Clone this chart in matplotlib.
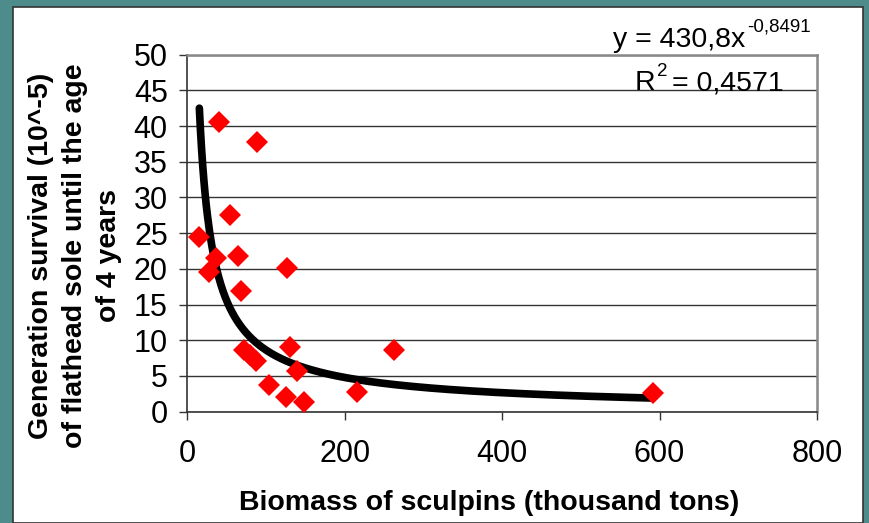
import numpy as np
import matplotlib.pyplot as plt
from matplotlib.patches import Rectangle

plt.rcParams['font.family'] = ['Liberation Sans', 'DejaVu Sans']

# Data
biomass = [14.5, 28, 36, 40.8, 54.8, 65, 68.8, 72, 80, 87, 88.4, 104, 125.7,
           127, 130.6, 139, 147.8, 216, 262, 592]
survival = [24.4, 19.5, 21.5, 40.5, 27.5, 21.8, 16.9, 8.6, 8.0, 7.1, 37.7, 3.7, 2.1,
            20.1, 9.0, 5.7, 1.3, 2.7, 8.7, 2.6]

# power trendline shown on the chart
coef_a = 430.8
coef_b = -0.8491
trend_x = np.linspace(15.3, 590, 400)
trend_y = coef_a * trend_x ** coef_b

W, H = 869, 523
fig = plt.figure(figsize=(W / 100, H / 100), dpi=100)
fig.patch.set_facecolor('#4e8c8c')
fig.patches.append(Rectangle((13 / W, 0), 850 / W, 1 - 7 / H, transform=fig.transFigure,
                             facecolor='white', edgecolor='#333333', linewidth=1.2, zorder=-5))

ax = fig.add_axes([187.3 / W, 1 - 411.7 / H, (817 - 187.3) / W, (411.7 - 54.6) / H])
ax.set_zorder(2)
ax.set_facecolor('white')
ax.set_xlim(0, 800)
ax.set_ylim(0, 50)
ax.set_xticks([0, 200, 400, 600, 800])
ax.set_yticks(range(0, 51, 5))
ax.grid(axis='y', color='#333333', linewidth=1)
ax.set_axisbelow(True)

for s in ['top', 'right']:
    ax.spines[s].set_color('#888888')
    ax.spines[s].set_linewidth(1.8)
for s in ['left', 'bottom']:
    ax.spines[s].set_color('#333333')
    ax.spines[s].set_linewidth(1.2)

ax.tick_params(axis='both', direction='out', length=6, width=1, color='#333333', labelsize=22)
ax.tick_params(axis='y', pad=8)
ax.tick_params(axis='x', pad=14)

ax.plot(trend_x, trend_y, color='black', linewidth=5.5, solid_capstyle='round', zorder=3)
ax.plot(biomass, survival, linestyle='none', marker='D', markersize=11.5,
        color='#ff0000', markeredgewidth=0, zorder=4)

# axis titles
fig.text(75 / W, 1 - 256 / H,
         'Generation survival (10^-5)\nof flathead sole until the age\nof 4 years',
         rotation=90, ha='center', va='center', fontsize=20.5, fontweight='bold',
         linespacing=1.42)
fig.text(489 / W, 1 - 503 / H, 'Biomass of sculpins (thousand tons)',
         ha='center', va='center', fontsize=20.5, fontweight='bold')

# trendline equation
fig.text(745 / W, 1 - 47 / H, 'y = 430,8x', ha='right', va='baseline', fontsize=20.5, zorder=5)
fig.text(747 / W, 1 - 32 / H, '-0,8491', ha='left', va='baseline', fontsize=13.5, zorder=5)
fig.text(635 / W, 1 - 90 / H, 'R', ha='left', va='baseline', fontsize=20.5, zorder=5)
fig.text(657 / W, 1 - 76 / H, '2', ha='left', va='baseline', fontsize=13.5, zorder=5)
fig.text(784 / W, 1 - 90 / H, '= 0,4571', ha='right', va='baseline', fontsize=20.5, zorder=5)

fig.savefig('out.png', dpi=100)
